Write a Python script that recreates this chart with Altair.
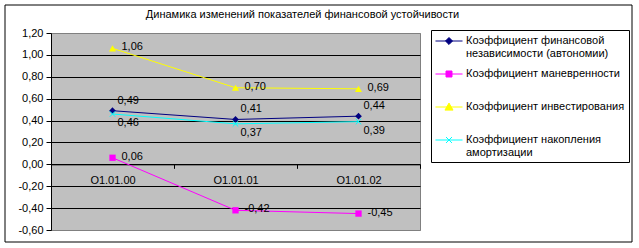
import altair as alt
import pandas as pd

# ---- data ----
categories = ["O1.01.00", "O1.01.01", "O1.01.02"]
series_names = [
    "Коэффициент финансовой независимости (автономии)",
    "Коэффициент маневренности",
    "Коэффициент инвестирования",
    "Коэффициент накопления амортизации",
]
legend_lines = [
    ["Коэффициент финансовой", "независимости (автономии)"],
    ["Коэффициент маневренности"],
    ["Коэффициент инвестирования"],
    ["Коэффициент накопления", "амортизации"],
]
autonomy = [0.49, 0.41, 0.44]
maneuver = [0.06, -0.42, -0.45]
investment = [1.06, 0.70, 0.69]
depreciation = [0.46, 0.37, 0.39]
colors = ["#000080", "#FF00FF", "#FFFF00", "#00FFFF"]
point_shapes = ["diamond", "square", "triangle-up", "M-1,-1L1,1M-1,1L1,-1"]
point_filled = [True, True, True, False]
point_sizes = [45, 40, 50, 30]
legend_paths = [
    "M-2.08,0H2.08M0,-0.54L0.54,0L0,0.54L-0.54,0Z",
    "M-2.08,0H2.08M-0.46,-0.46H0.46V0.46H-0.46Z",
    "M-2.08,0H2.08M0,-0.6L0.62,0.48H-0.62Z",
    "M-2.08,0H2.08M-0.46,-0.46L0.46,0.46M-0.46,0.46L0.46,-0.46",
]
y_ticks = [-0.6, -0.4, -0.2, 0.0, 0.2, 0.4, 0.6, 0.8, 1.0, 1.2]
title_text = "Динамика изменений показателей финансовой устойчивости"

values = [autonomy, maneuver, investment, depreciation]
rows = []
for name, vals in zip(series_names, values):
    for c, v in zip(categories, vals):
        rows.append({"cat": c, "series": name, "value": v,
                     "label": f"{v:.2f}".replace(".", ",")})
df = pd.DataFrame(rows)

FONT = "Liberation Sans"
W, H = 369, 197


def case_expr(mapping, default):
    parts = []
    for k, v in mapping:
        parts.append(f"datum.{k[0]} == '{k[1]}' ? {v} : ")
    return "".join(parts) + default


label_expr = case_expr(
    [(("label", n), "[" + ",".join(f"'{s}'" for s in ls) + "]")
     for n, ls in zip(series_names, legend_lines)], "datum.label")
symbol_expr = case_expr(
    [(("value", n), f"'{p}'") for n, p in zip(series_names, legend_paths)],
    "'circle'")
color_expr = case_expr(
    [(("value", n), f"'{c}'") for n, c in zip(series_names, colors)],
    "'black'")

color_scale = alt.Scale(domain=series_names, range=colors)
x_enc = alt.X("cat:N", sort=categories,
              scale=alt.Scale(type="band", paddingInner=0, paddingOuter=0),
              bandPosition=0.5,
              axis=alt.Axis(title=None, labelAngle=0, tickBand="extent",
                            tickSize=4, tickColor="black", domainColor="black",
                            labelFont=FONT, labelFontSize=11, labelColor="black",
                            labelPadding=6, grid=False,
                            offset={"expr": "scale('y', 0) - height"}))
y_enc = alt.Y("value:Q",
              scale=alt.Scale(domain=[-0.6, 1.2], nice=False, zero=False),
              axis=alt.Axis(title=None, values=y_ticks, grid=True,
                            gridColor={"condition": {"test": "datum.value >= 1.19 || datum.value <= -0.59",
                                                     "value": "#808080"},
                                       "value": "black"},
                            gridWidth=1,
                            domainColor="black", tickColor="black", tickSize=5,
                            labelFont=FONT, labelFontSize=11, labelColor="black",
                            labelPadding=3,
                            labelExpr="replace(replace(format(datum.value, '.2f'), '.', ','), '\u2212', '-')"))

base = alt.Chart(df)

lines = base.mark_line(strokeWidth=1).encode(
    x=x_enc, y=y_enc,
    color=alt.Color("series:N", scale=color_scale, legend=alt.Legend(
        title=None, orient="none", legendX=380, legendY=-3,
        strokeColor="black", fillColor="white", padding=4,
        labelFont=FONT, labelFontSize=11, labelColor="black", labelLimit=400,
        labelExpr=label_expr, labelOffset=10,
        symbolType={"expr": symbol_expr}, symbolSize=169,
        symbolStrokeWidth=1, symbolOffset=7,
        symbolStrokeColor={"expr": color_expr},
        symbolFillColor={"expr": color_expr},
        rowPadding=8, gridAlign="all")),
    order=alt.Order("cat:N"),
)

point_layers = []
for name, shp, fl, sz in zip(series_names, point_shapes, point_filled, point_sizes):
    point_layers.append(
        base.transform_filter(alt.FieldEqualPredicate(field="series", equal=name))
        .mark_point(filled=fl, size=sz, opacity=1, shape=shp, strokeWidth=1)
        .encode(x=x_enc, y=y_enc,
                color=alt.Color("series:N", scale=color_scale, legend=None))
    )

txt_kw = dict(align="left", baseline="middle", font=FONT, fontSize=11, color="black")
txt_above = base.transform_filter(
    alt.FieldEqualPredicate(field="series", equal=series_names[0])
).mark_text(dx=5, dy=-10, **txt_kw).encode(x=x_enc, y=y_enc, text="label:N")
txt_below = base.transform_filter(
    alt.FieldEqualPredicate(field="series", equal=series_names[3])
).mark_text(dx=5, dy=9, **txt_kw).encode(x=x_enc, y=y_enc, text="label:N")
txt_right = base.transform_filter(
    alt.FieldOneOfPredicate(field="series", oneOf=series_names[1:3])
).mark_text(dx=9, dy=-1, **txt_kw).encode(x=x_enc, y=y_enc, text="label:N")

frame = alt.Chart(pd.DataFrame({"k": [0]})).mark_rect(
    fill=None, stroke="black", strokeWidth=1, clip=False
).encode(x=alt.value(-46), x2=alt.value(581), y=alt.value(-28), y2=alt.value(209))

chart = alt.layer(
    lines, *point_layers, txt_above, txt_below, txt_right, frame
).properties(
    width=W, height=H,
    title=alt.TitleParams(title_text, font=FONT, fontSize=11, fontWeight="normal",
                          color="black", anchor="middle", dx=67, offset=-15),
    padding={"left": 51, "top": 33, "right": 219, "bottom": 18},
    autosize=alt.AutoSizeParams(type="none"),
    background="white",
).configure_view(fill="#C0C0C0", stroke="#808080", strokeWidth=1)

chart.save("out.html", embed_options={"renderer": "svg", "actions": False})
